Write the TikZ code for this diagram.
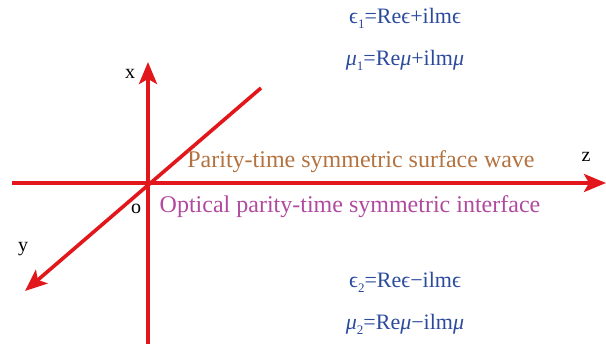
\documentclass[tikz,border=0pt]{standalone}
\usepackage{fontspec}
\setmainfont{Liberation Serif}
\usetikzlibrary{arrows.meta}
\definecolor{axisred}{HTML}{E2171B}
\definecolor{wavebrown}{HTML}{B3723F}
\definecolor{ifacepurple}{HTML}{B04A9E}
\definecolor{formblue}{HTML}{2B4A9C}
\newcommand{\lowsub}[1]{\raisebox{-5pt}{\fontsize{13}{13}\selectfont #1}}
\begin{document}
\begin{tikzpicture}[x=1pt, y=-1pt,
    axis/.style={axisred, line width=3.6pt, -{Stealth[length=22pt,width=18pt,inset=5pt]}},
    axislabel/.style={font=\fontsize{20}{20}\selectfont},
    formula/.style={formblue, font=\fontsize{22}{22}\selectfont}]
  \useasboundingbox (0,0) rectangle (606,344);
  \coordinate (o) at (148,183);
  % axis ends
  \coordinate (zstart) at (12,183);
  \coordinate (zend) at (606,183);
  \coordinate (xstart) at (148,344);
  \coordinate (xend) at (148,62);
  \coordinate (ystart) at (261,88);
  \coordinate (yend) at (25,291);
  % axes
  \draw[axis] (zstart) -- (zend);
  \draw[axis] (xstart) -- (xend);
  \draw[axis] (ystart) -- (yend);
  % axis labels
  \node[axislabel] (xlab) at (130,74) {x};
  \node[axislabel] (ylab) at (23,249) {y};
  \node[axislabel] (zlab) at (586,157) {z};
  \node[axislabel] (olab) at (136,209) {o};
  % surface wave and interface
  \node[wavebrown, font=\fontsize{24}{24}\selectfont] (wave) at (361,162) {Parity-time symmetric surface wave};
  \node[ifacepurple, font=\fontsize{24}{24}\selectfont] (iface) at (350,207) {Optical parity-time symmetric interface};
  % material parameters
  \node[formula] (eps1) at (405,18) {ϵ\lowsub{1}=Reϵ+ilmϵ};
  \node[formula] (mu1) at (405,60) {\textit{μ}\lowsub{1}=Re\textit{μ}+ilm\textit{μ}};
  \node[formula] (eps2) at (405,282) {ϵ\lowsub{2}=Reϵ−ilmϵ};
  \node[formula] (mu2) at (405,324) {\textit{μ}\lowsub{2}=Re\textit{μ}−ilm\textit{μ}};
\end{tikzpicture}
\end{document}
